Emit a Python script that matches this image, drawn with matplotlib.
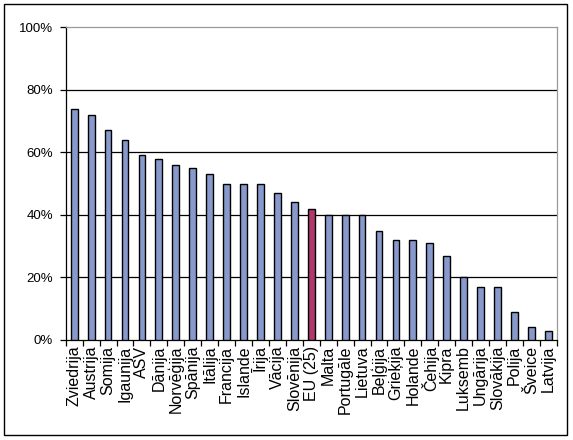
import matplotlib
matplotlib.use("Agg")
import matplotlib.pyplot as plt
from matplotlib.patches import Rectangle
from matplotlib.ticker import FixedLocator, PercentFormatter

plt.rcParams["font.family"] = ["Liberation Sans", "DejaVu Sans"]

countries = [
    "Zviedrija", "Austrija", "Somija", "Igaunija", "ASV", "Dānija",
    "Norvēģija", "Spānija", "Itālija", "Francija", "Islande", "Īrija",
    "Vācija", "Slovēnija", "EU (25)", "Malta", "Portugāle", "Lietuva",
    "Beļģija", "Grieķija", "Holande", "Čehija", "Kipra", "Luksemb",
    "Ungārija", "Slovākija", "Polija", "Šveice", "Latvija",
]
values = [74, 72, 67, 64, 59, 58, 56, 55, 53, 50, 50, 50, 47, 44, 42,
          40, 40, 40, 35, 32, 32, 31, 27, 20, 17, 17, 9, 4, 3]
highlight = "EU (25)"

bar_color = "#8899cc"
eu_color = "#b0386c"

fig = plt.figure(figsize=(5.73, 4.40), dpi=100)
ax = fig.add_axes([0.1147, 0.2273, 0.857, 0.7107])

colors = [eu_color if c == highlight else bar_color for c in countries]
x = list(range(len(countries)))
ax.bar(x, values, width=0.4, color=colors, edgecolor="black",
       linewidth=1.0, zorder=3)

ax.set_xlim(-0.5, len(countries) - 0.5)
ax.set_ylim(0, 100)
ax.set_yticks(range(0, 101, 20))
ax.yaxis.set_major_formatter(PercentFormatter(decimals=0))
ax.set_xticks(x)
ax.set_xticklabels(countries, rotation=90, fontsize=11.5)
ax.xaxis.set_minor_locator(FixedLocator([i - 0.5 for i in range(len(countries) + 1)]))
ax.tick_params(axis="x", which="major", length=0, pad=4)
ax.tick_params(axis="x", which="minor", length=4, width=0.9, color="black")
ax.tick_params(axis="y", labelsize=9.5, length=4, width=0.9, pad=5)

for y in range(20, 100, 20):
    ax.axhline(y, color="black", linewidth=0.9, zorder=1)

for side in ["top", "right"]:
    ax.spines[side].set_color("#999999")
    ax.spines[side].set_linewidth(0.9)
for side in ["left", "bottom"]:
    ax.spines[side].set_color("black")
    ax.spines[side].set_linewidth(0.9)

fig.patches.append(Rectangle((4 / 573, 5 / 440), 563 / 573, 431 / 440,
                             transform=fig.transFigure, fill=False,
                             edgecolor="black", linewidth=1.0))

fig.savefig("out.png", dpi=100)
